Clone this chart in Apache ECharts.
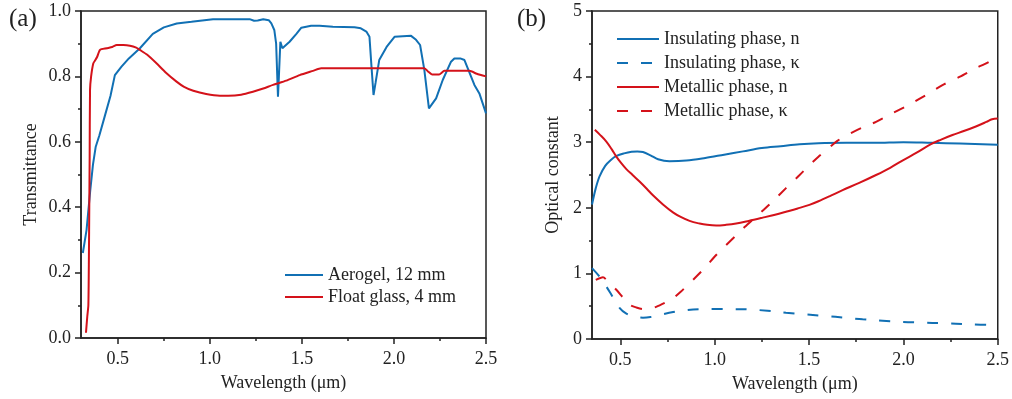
<!DOCTYPE html>
<html>
<head>
<meta charset="utf-8">
<script src="https://cdn.jsdelivr.net/npm/echarts@6/dist/echarts.min.js"></script>
<style>
  html, body { margin: 0; padding: 0; background: #fff; }
  #chart { width: 1012px; height: 399px; }
</style>
</head>
<body>
<div id="chart"></div>
<script>
// Panel (a): transmittance spectra
const aerogelWl = [0.31,0.33,0.35,0.365,0.38,0.40,0.43,0.46,0.484,0.52,0.56,0.62,0.69,0.75,0.82,0.9,1.017,1.1,1.216,1.24,1.26,1.29,1.32,1.334,1.35,1.36,1.37,1.375,1.383,1.394,1.433,1.47,1.497,1.55,1.596,1.668,1.786,1.82,1.85,1.867,1.878,1.889,1.90,1.92,1.96,2.003,2.093,2.12,2.142,2.165,2.19,2.229,2.265,2.31,2.328,2.36,2.383,2.437,2.464,2.5];
const aerogelT = [0.26,0.33,0.45,0.53,0.585,0.62,0.68,0.74,0.804,0.83,0.855,0.886,0.93,0.95,0.962,0.967,0.975,0.975,0.975,0.97,0.971,0.975,0.972,0.962,0.942,0.90,0.738,0.80,0.906,0.886,0.906,0.93,0.949,0.955,0.955,0.952,0.95,0.947,0.937,0.921,0.83,0.743,0.78,0.85,0.89,0.921,0.924,0.912,0.896,0.82,0.702,0.733,0.789,0.845,0.855,0.855,0.85,0.774,0.748,0.687];

const glassWl = [0.327,0.334,0.34,0.343,0.345,0.347,0.349,0.355,0.367,0.378,0.388,0.403,0.439,0.47,0.494,0.53,0.566,0.6,0.62,0.66,0.71,0.76,0.819,0.86,0.91,0.98,1.054,1.1,1.17,1.234,1.29,1.343,1.415,1.488,1.56,1.605,1.8,2.0,2.165,2.185,2.207,2.245,2.274,2.35,2.41,2.45,2.5];
const glassT = [0.016,0.065,0.10,0.25,0.40,0.55,0.758,0.80,0.84,0.85,0.86,0.881,0.886,0.89,0.896,0.896,0.894,0.888,0.881,0.866,0.84,0.812,0.784,0.768,0.756,0.746,0.741,0.741,0.744,0.753,0.763,0.774,0.787,0.804,0.817,0.825,0.825,0.825,0.825,0.815,0.806,0.806,0.817,0.817,0.817,0.808,0.80];

// Panel (b): optical constants
const insNWl = [0.35,0.37,0.39,0.42,0.45,0.48,0.52,0.56,0.59,0.62,0.66,0.70,0.76,0.85,0.95,1.05,1.15,1.25,1.35,1.45,1.55,1.7,1.85,2.0,2.15,2.3,2.5];
const insN = [2.05,2.30,2.48,2.64,2.73,2.79,2.83,2.855,2.86,2.85,2.80,2.74,2.71,2.72,2.76,2.81,2.86,2.91,2.94,2.97,2.985,2.99,2.99,3.0,2.99,2.98,2.96];

const insKWl = [0.35,0.39,0.426,0.46,0.497,0.53,0.567,0.62,0.66,0.708,0.78,0.85,0.93,1.008,1.1,1.184,1.28,1.378,1.48,1.59,1.69,1.784,1.89,1.995,2.1,2.207,2.35,2.5];
const insK = [1.08,0.95,0.80,0.64,0.47,0.39,0.35,0.325,0.335,0.366,0.41,0.44,0.455,0.457,0.455,0.45,0.43,0.40,0.375,0.35,0.325,0.30,0.28,0.26,0.25,0.24,0.225,0.21];

const metNWl = [0.365,0.39,0.426,0.455,0.479,0.505,0.532,0.565,0.602,0.64,0.673,0.726,0.779,0.82,0.867,0.92,0.96,1.008,1.06,1.114,1.18,1.255,1.32,1.378,1.44,1.502,1.55,1.608,1.678,1.766,1.855,1.93,1.995,2.07,2.146,2.2,2.26,2.32,2.384,2.44,2.47,2.5];
const metN = [3.19,3.12,3.01,2.89,2.78,2.68,2.59,2.50,2.40,2.29,2.19,2.05,1.93,1.86,1.80,1.76,1.74,1.73,1.74,1.76,1.80,1.85,1.895,1.94,1.99,2.045,2.10,2.175,2.27,2.38,2.50,2.61,2.72,2.84,2.97,3.04,3.11,3.17,3.24,3.31,3.35,3.36];

const metKWl = [0.37,0.408,0.44,0.479,0.515,0.55,0.585,0.62,0.655,0.69,0.735,0.779,0.82,0.867,0.94,1.008,1.06,1.114,1.16,1.21,1.26,1.308,1.378,1.45,1.502,1.55,1.608,1.65,1.696,1.78,1.855,1.94,2.03,2.12,2.207,2.3,2.384,2.43,2.49];
const metK = [0.90,0.94,0.86,0.75,0.63,0.52,0.48,0.457,0.465,0.49,0.55,0.62,0.72,0.85,1.06,1.28,1.43,1.58,1.71,1.84,1.97,2.10,2.30,2.50,2.65,2.78,2.92,3.02,3.10,3.22,3.31,3.44,3.57,3.72,3.87,4.00,4.13,4.19,4.28];

// Tick positions
const xMajorTicks = [0.5, 1.0, 1.5, 2.0, 2.5];
const xMinorTicks = [0.75, 1.25, 1.75, 2.25];

const BLUE = '#1170b4';
const RED = '#d4121a';
const INK = '#222';
const FONT = '"Liberation Serif", "Times New Roman", serif';

const pairs = (xs, ys) => xs.map((x, i) => [x, ys[i]]);

const chart = echarts.init(document.getElementById('chart'), null, { renderer: 'canvas' });

function mainXAxis(grid, min) {
  return {
    type: 'value', gridIndex: grid, position: 'bottom', min: min, max: 2.5,
    name: 'Wavelength (μm)', nameLocation: 'middle', nameGap: 36,
    nameTextStyle: { fontFamily: FONT, fontSize: 18, color: INK },
    axisLine: { show: true, onZero: false, lineStyle: { color: INK, width: 1.5 } },
    axisTick: { show: true, length: 6, customValues: xMajorTicks, lineStyle: { color: INK, width: 1.5 } },
    axisLabel: { show: true, customValues: xMajorTicks, margin: 12, fontFamily: FONT, fontSize: 18, color: INK,
      formatter: v => v.toFixed(1) },
    splitLine: { show: false }
  };
}
function minorXAxis(grid, min) {
  return {
    type: 'value', gridIndex: grid, position: 'bottom', min: min, max: 2.5,
    axisLine: { show: false, onZero: false },
    axisTick: { show: true, length: 3, customValues: xMinorTicks, lineStyle: { color: INK, width: 1.5 } },
    axisLabel: { show: false },
    splitLine: { show: false }
  };
}
function yAxis(grid, max, interval, name, gap, fmt) {
  return {
    type: 'value', gridIndex: grid, min: 0, max: max, interval: interval,
    name: name, nameLocation: 'middle', nameGap: gap,
    nameTextStyle: { fontFamily: FONT, fontSize: 18, color: INK },
    axisLine: { show: true, onZero: false, lineStyle: { color: INK, width: 1.5 } },
    axisTick: { show: true, length: 6, lineStyle: { color: INK, width: 1.5 } },
    minorTick: { show: true, splitNumber: 2, length: 3, lineStyle: { color: INK, width: 1.5 } },
    axisLabel: { margin: 10, fontFamily: FONT, fontSize: 18, color: INK, formatter: fmt },
    splitLine: { show: false }, minorSplitLine: { show: false }
  };
}

function lineSeries(name, xi, yi, data, color, dashed, smooth) {
  return {
    name: name, type: 'line', xAxisIndex: xi, yAxisIndex: yi, data: data,
    symbol: 'none', showSymbol: false, smooth: smooth,
    lineStyle: { color: color, width: 2, type: dashed ? [11, 13] : 'solid' },
    // transparent item colour keeps the legend icon a bare line
    itemStyle: { color: 'transparent', borderWidth: 0 },
    emphasis: { disabled: true }, animation: false
  };
}

const legendText = { fontFamily: FONT, fontSize: 18, color: INK };

chart.setOption({
  animation: false,
  backgroundColor: '#fff',
  title: [
    { text: '(a)', left: 4, top: 2, textStyle: { fontFamily: FONT, fontSize: 25, fontWeight: 'normal', color: INK } },
    { text: '(b)', left: 512, top: 2, textStyle: { fontFamily: FONT, fontSize: 25, fontWeight: 'normal', color: INK } }
  ],
  grid: [
    { left: 81, right: 526, top: 11, bottom: 61, show: true, borderColor: INK, borderWidth: 1.5, backgroundColor: 'transparent' },
    { left: 592, right: 13, top: 11, bottom: 60, show: true, borderColor: INK, borderWidth: 1.5, backgroundColor: 'transparent' }
  ],
  xAxis: [mainXAxis(0, 0.3), minorXAxis(0, 0.3), mainXAxis(1, 0.35), minorXAxis(1, 0.35)],
  yAxis: [
    yAxis(0, 1.0, 0.2, 'Transmittance', 41, v => v.toFixed(1)),
    yAxis(1, 5, 1, 'Optical constant', 30, v => String(v))
  ],
  legend: [
    {
      orient: 'vertical', left: 284, top: 266, padding: 0, itemWidth: 38, itemHeight: 18, itemGap: 4,
      itemStyle: { color: 'transparent', borderWidth: 0 },
      textStyle: legendText,
      data: ['Aerogel, 12 mm', 'Float glass, 4 mm'], selectedMode: false
    },
    {
      orient: 'vertical', left: 616, top: 30, padding: 0, itemWidth: 42, itemHeight: 18, itemGap: 6,
      itemStyle: { color: 'transparent', borderWidth: 0 },
      textStyle: legendText,
      data: ['Insulating phase, n', 'Insulating phase, κ', 'Metallic phase, n', 'Metallic phase, κ'], selectedMode: false
    }
  ],
  series: [
    lineSeries('Aerogel, 12 mm', 0, 0, pairs(aerogelWl, aerogelT), BLUE, false, false),
    lineSeries('Float glass, 4 mm', 0, 0, pairs(glassWl, glassT), RED, false, 0.2),
    lineSeries('Insulating phase, n', 2, 1, pairs(insNWl, insN), BLUE, false, 0.35),
    lineSeries('Insulating phase, κ', 2, 1, pairs(insKWl, insK), BLUE, true, 0.35),
    lineSeries('Metallic phase, n', 2, 1, pairs(metNWl, metN), RED, false, 0.35),
    lineSeries('Metallic phase, κ', 2, 1, pairs(metKWl, metK), RED, true, 0.25)
  ]
});
</script>
</body>
</html>
